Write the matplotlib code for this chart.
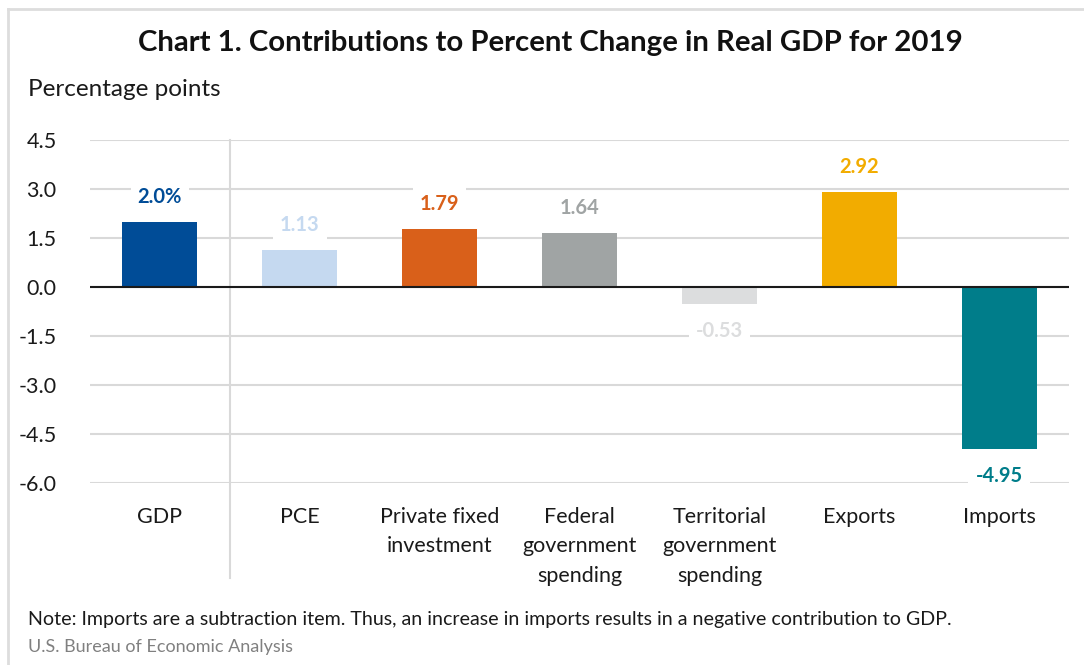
import matplotlib
matplotlib.use("Agg")
import matplotlib.pyplot as plt
from matplotlib.lines import Line2D

categories = ["GDP", "PCE", "Private fixed\ninvestment", "Federal\ngovernment\nspending",
              "Territorial\ngovernment\nspending", "Exports", "Imports"]
values = [2.0, 1.13, 1.79, 1.64, -0.53, 2.92, -4.95]
value_labels = ["2.0%", "1.13", "1.79", "1.64", "-0.53", "2.92", "-4.95"]
colors = ["#004C97", "#C5D9F0", "#D9601A", "#A0A4A4", "#DCDDDE", "#F2AC00", "#007D8A"]
yticks = [4.5, 3.0, 1.5, 0.0, -1.5, -3.0, -4.5, -6.0]

plt.rcParams["font.family"] = ["Lato", "DejaVu Sans"]

W, H = 1084, 665
fig = plt.figure(figsize=(W / 100, H / 100), dpi=100)
fig.patch.set_facecolor("white")

def fx(px):
    return px / W

def fy(py):
    return 1 - py / H

ax = fig.add_axes([fx(90), fy(483), fx(1069) - fx(90), fy(140) - fy(483)])
x = list(range(len(categories)))
ax.bar(x, values, width=0.537, color=colors, zorder=3)
ax.set_xlim(-0.5, 6.5)
ax.set_ylim(-6.0, 4.5)
ax.set_yticks(yticks)
ax.set_yticklabels([f"{t:.1f}" for t in yticks], fontsize=15.5, color="#1a1a1a")
ax.tick_params(axis="y", length=0, pad=24)
ax.tick_params(axis="x", length=0, pad=17)
ax.set_xticks(x)
ax.set_xticklabels(categories, fontsize=15.5, color="#1a1a1a", linespacing=1.6, va="top")
for s in ax.spines.values():
    s.set_visible(False)
ax.grid(axis="y", color="#D9D9D9", linewidth=1.5, zorder=0)
ax.set_axisbelow(True)
ax.axhline(0, color="#1a1a1a", linewidth=1.5, zorder=4)

# separator line between GDP and components
ax.add_line(Line2D([0.5, 0.5], [1.0, -0.277], transform=ax.get_xaxis_transform(),
                   color="#D9D9D9", linewidth=1.5, clip_on=False, zorder=1))

# value labels
for xi, v, lab, c in zip(x, values, value_labels, colors):
    off = 25 if v >= 0 else -27
    ax.annotate(lab, (xi, v), xytext=(0, off * 0.72), textcoords="offset points",
                ha="center", va="center", fontsize=14.5, fontweight="bold", color=c,
                bbox=dict(boxstyle="square,pad=0.35", fc="white", ec="none"), zorder=5)

# titles and notes
fig.text(fx(550), fy(43), "Chart 1. Contributions to Percent Change in Real GDP for 2019",
         ha="center", va="center", fontsize=21.2, fontweight="bold", color="#111111")
fig.text(fx(28), fy(89), "Percentage points", ha="left", va="center", fontsize=17.5, color="#1a1a1a")
fig.text(fx(28), fy(620), "Note: Imports are a subtraction item. Thus, an increase in imports results in a negative contribution to GDP.",
         ha="left", va="center", fontsize=14.1, color="#1a1a1a")
fig.text(fx(28), fy(647), "U.S. Bureau of Economic Analysis", ha="left", va="center", fontsize=13, color="#808080")

# frame lines (top and left)
fig.add_artist(Line2D([fx(8), 1.0], [fy(9), fy(9)], transform=fig.transFigure,
                      color="#DDDDDD", linewidth=2.0))
fig.add_artist(Line2D([fx(8), fx(8)], [fy(9), 0.0], transform=fig.transFigure,
                      color="#DDDDDD", linewidth=2.0))

fig.savefig("out.png", dpi=100, facecolor="white")
